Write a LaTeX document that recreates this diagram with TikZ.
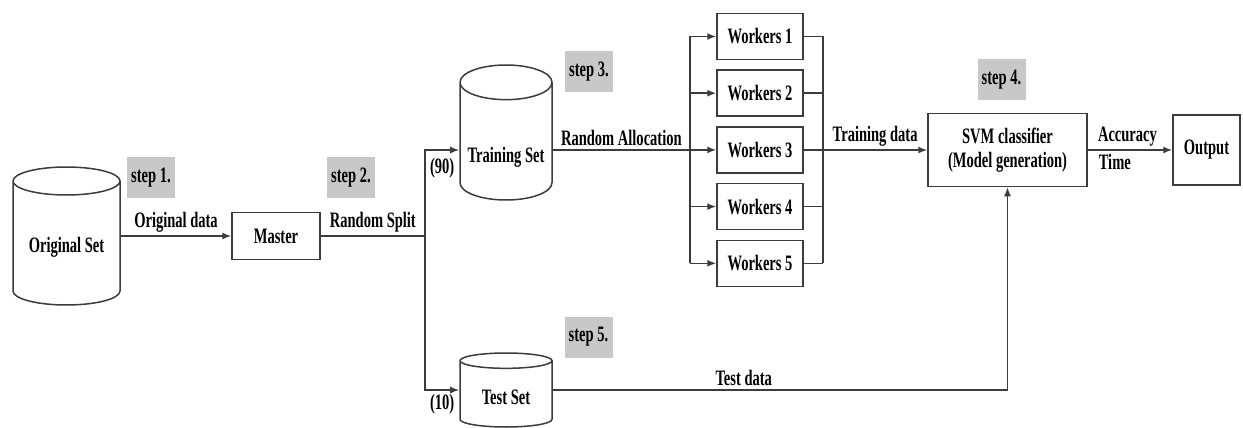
\documentclass[tikz,border=0pt]{standalone}
\usepackage{fontspec}
\setmainfont{Liberation Serif}[FakeStretch=0.66]
\usetikzlibrary{shapes, arrows.meta, positioning}
\definecolor{stepgray}{RGB}{200,200,200}
\definecolor{linegray}{RGB}{60,60,60}
\tikzstyle{block} = [draw=linegray, line width=1.5pt, fill=white, rectangle]
\tikzstyle{worker} = [block, minimum width=86pt, minimum height=46pt]
\tikzstyle{db} = [draw=linegray, line width=1.5pt, fill=white, cylinder, shape border rotate=90, anchor=shape center]
\tikzstyle{stepbox} = [fill=stepgray, minimum width=48pt, minimum height=41pt, inner sep=0pt]
\tikzstyle{line} = [draw=linegray, line width=1.5pt]

\begin{document}
\begin{tikzpicture}[x=1pt, y=-1pt, auto, node distance=56.7pt, >={Latex[length=9pt,width=7pt]},
    font=\fontsize{22}{24}\selectfont\bfseries]
    \useasboundingbox (0,0) rectangle (1243,428);
    \node [db, minimum width=107pt, minimum height=138pt, aspect=4.2] (orig) at (66.5,236) {};
    \node (origtxt) at ([yshift=-11pt]orig.shape center) {Original Set};
    \node [block, minimum width=88pt, minimum height=47pt] (master) at (276,236) {Master};
    \node [db, minimum width=92pt, minimum height=135pt, aspect=5.2] (train) at (506,132.5) {};
    \node (traintxt) at ([yshift=-25pt]train.shape center) {Training Set};
    \node [db, minimum width=92pt, minimum height=74pt, aspect=2.3] (test) at (506,390) {};
    \node (testtxt) at ([yshift=-7pt]test.shape center) {Test Set};
    \node [worker] (w1) at (760,36.5) {Workers 1};
    \node [worker, below of=w1] (w2) {Workers 2};
    \node [worker, below of=w2] (w3) {Workers 3};
    \node [worker, below of=w3] (w4) {Workers 4};
    \node [worker, below of=w4] (w5) {Workers 5};
    \node [block, align=center, minimum width=159pt, minimum height=73pt] (svm) at (1007.5,150) {SVM classifier\\(Model generation)};
    \node [block, minimum width=67pt, minimum height=70pt] (out) at (1206.5,150) {Output};
    % step markers
    \node [stepbox] (s1) at (151,177.5) {step 1.};
    \node [stepbox] (s2) at (351,177.5) {step 2.};
    \node [stepbox] (s3) at (589,71.5) {step 3.};
    \node [stepbox] (s4) at (1001.5,80) {step 4.};
    \node [stepbox] (s5) at (588.5,337) {step 5.};
    \coordinate (split) at (425,236);
    \coordinate (alloc) at (690,150);
    \coordinate (merge) at (823,150);
    \draw [line,->] (orig.east |- master) -- node {Original data} (master);
    \draw [line] (master) -- node {Random Split} (split);
    \draw [line,->] (split) |- node [below, pos=0.75, yshift=-4pt] {(90)} (train.west |- alloc);
    \draw [line,->] (split) |- node [below, pos=0.75] {(10)} (test.west |- test.shape center);
    \draw [line] (train.east |- alloc) -- node {Random Allocation} (alloc);
    \foreach \i in {1,...,5}
        \draw [line,->] (alloc |- w\i) -- (w\i.west);
    \draw [line] (alloc |- w1) -- (alloc |- w5);
    \foreach \i in {1,...,5}
        \draw [line] (w\i.east) -- (merge |- w\i);
    \draw [line] (merge |- w1) -- (merge |- w5);
    \draw [line,->] (merge) -- node {Training data} (merge -| svm.west);
    \draw [line,->] (svm) -- node [pos=0.47] {Accuracy} node [below, pos=0.32] {Time} (out);
    \draw [line,->] (test.east |- test.shape center) -| node [pos=0.21] {Test data} (svm);
\end{tikzpicture}
\end{document}
